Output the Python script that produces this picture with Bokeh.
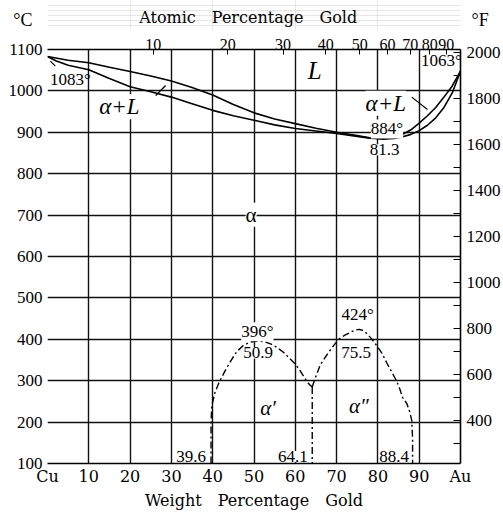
from bokeh.plotting import figure
from bokeh.layouts import column
from bokeh.models import Range1d, LinearAxis, FixedTicker, Label
from bokeh.core.properties import value
from bokeh.embed import file_html
from bokeh.resources import INLINE

# ---------------- data ----------------
# liquidus (wt% Au, deg C)
liq_wt = [0, 5, 10, 15, 20, 25, 30, 35, 40, 45, 50, 55, 60, 65, 70, 75, 78, 81.3,
          84, 86, 88, 90, 92, 94, 96, 98, 100]
liq_c = [1083, 1074, 1068, 1057, 1047, 1036, 1024, 1008, 990, 967, 947, 932, 921, 910,
         900, 892, 887, 884, 887, 895, 906, 922, 940, 960, 985, 1012, 1048]
# solidus
sol_wt = [0, 2, 5, 10, 15, 20, 25, 30, 35, 40, 45, 50, 55, 60, 65, 70, 75, 78, 81.3,
          84, 86, 88, 90, 92, 94, 96, 98, 100]
sol_c = [1083, 1073, 1062, 1051, 1030, 1010, 998, 985, 969, 953, 940, 929, 918, 909,
         903, 897, 890, 886, 884, 885, 889, 895, 904, 917, 935, 960, 995, 1048]
# ordering boundary alpha' (dash-dot)
ord1_wt = [39.6, 39.6, 39.8, 40.5, 41.5, 42.8, 44.2, 45.8, 47.4, 49, 50.9, 52.5, 54,
           55.6, 57.2, 58.7, 60, 61.1, 62, 62.8, 63.5, 64.1]
ord1_c = [100, 200, 240, 270, 295, 320, 345, 370, 385, 393, 396, 394, 389, 380, 368,
          353, 340, 325, 311, 298, 290, 285]
# ordering boundary alpha''
ord2_wt = [64.1, 64.6, 66, 67.2, 68.4, 69.6, 70.8, 72, 73.2, 74.4, 75.5, 76.5, 77.3,
           78.5, 79.7, 81, 82.1, 83.3, 84.5, 85.3, 86, 87, 87.7, 88.2, 88.4, 88.4]
ord2_c = [285, 300, 337, 356, 373, 389, 402, 410, 416, 422, 424, 421, 414, 401, 385,
          366, 344, 322, 300, 280, 259, 245, 225, 204, 160, 100]
# vertical boundary between alpha' and alpha''
ord3_wt = [64.1, 64.1]
ord3_c = [285, 100]

# axes
wt_ticks = [0, 10, 20, 30, 40, 50, 60, 70, 80, 90, 100]
wt_labels = ["Cu", "10", "20", "30", "40", "50", "60", "70", "80", "90", "Au"]
c_ticks = [100, 200, 300, 400, 500, 600, 700, 800, 900, 1000, 1100]
f_ticks = [400, 600, 800, 1000, 1200, 1400, 1600, 1800, 2000]
f_minor = [300, 500, 700, 900, 1100, 1300, 1500, 1700, 1900]
at_ticks = [10, 20, 30, 40, 50, 60, 70, 80, 90]
M_AU, M_CU = 196.97, 63.546

# point labels (text, wt%, degC)
num_text = ["1083°", "1063°", "884°", "81.3", "396°", "50.9", "424°", "75.5",
            "39.6", "64.1", "88.4"]
num_x = [0.6, 95.4, 82.2, 81.6, 50.8, 51.0, 75.1, 74.7, 34.8, 59.4, 83.9]
num_y = [1028, 1073, 908, 858, 418, 367, 459, 368, 117, 117, 117]
num_bg = [False, False, True, True, True, True, True, True, True, True, True]
num_align = ["left", "center", "center", "center", "center", "center", "center",
             "center", "center", "center", "center"]

phase_text = ["α+L", "L", "α+L", "α", "α′", "α″"]
phase_x = [17.4, 64.7, 81.9, 49.3, 53.4, 75.4]
phase_y = [962, 1049, 970, 701, 233, 240]
phase_italic = [True, True, True, False, True, True]
phase_size = ["23px", "25px", "23px", "21px", "21px", "21px"]

# leader lines
lead_x0 = [0.7, 26.2, 88.2]
lead_y0 = [1072, 989, 985]
lead_x1 = [1.9, 28.6, 92.0]
lead_y1 = [1060, 1013, 955]


def wt_from_at(a):
    return 100 * a * M_AU / (a * M_AU + (100 - a) * M_CU)


at_pos = [round(wt_from_at(a), 2) for a in at_ticks]

SERIF = "Liberation Serif"
DSERIF = "DejaVu Serif"
W = 503
HEAD_H = 30

# ---------------- header strip (units and top title) ----------------
h = figure(width=W, height=HEAD_H, x_range=Range1d(0, 100), y_range=Range1d(HEAD_H, 0),
           output_backend="svg", toolbar_location=None,
           x_axis_location=None, y_axis_location=None, min_border=0)
h.outline_line_color = None
h.background_fill_color = "white"
h.border_fill_color = "white"
h.text(x=[48.6], y=[17], text=["Atomic\u2003Percentage\u2003Gold"],
       text_font=value(DSERIF), text_font_size="16px", text_align="center",
       text_baseline="middle", text_color="black")

unit_left = LinearAxis(ticker=FixedTicker(ticks=[21]), major_label_overrides={21: "°C"})
unit_right = LinearAxis(ticker=FixedTicker(ticks=[21]), major_label_overrides={21: "°F"})
for ax, so in ((unit_left, 15), (unit_right, 11)):
    ax.axis_line_color = None
    ax.major_tick_in = 0
    ax.major_tick_out = 0
    ax.minor_tick_in = 0
    ax.minor_tick_out = 0
    ax.major_label_text_font = SERIF
    ax.major_label_text_font_size = "18px"
    ax.major_label_text_color = "black"
    ax.major_label_standoff = so
h.add_layout(unit_left, "left")
h.add_layout(unit_right, "right")

# ---------------- main diagram ----------------
p = figure(width=W, height=513 - HEAD_H, x_range=Range1d(0, 100),
           y_range=Range1d(100, 1100), output_backend="svg", toolbar_location=None,
           min_border_left=47, min_border_right=42, min_border_top=49 - HEAD_H,
           min_border_bottom=50)
p.outline_line_color = None
p.background_fill_color = "white"
p.border_fill_color = "white"
p.extra_y_ranges = {"F": Range1d(212, 2012)}

# grid
p.xgrid.ticker = FixedTicker(ticks=wt_ticks[1:-1])
p.ygrid.ticker = FixedTicker(ticks=c_ticks[1:-1])
for g in (p.xgrid, p.ygrid):
    g.grid_line_color = "#111111"
    g.grid_line_width = 1.4
    g.grid_line_alpha = 1.0

# bottom axis
xa = p.xaxis[0]
xa.ticker = FixedTicker(ticks=wt_ticks)
xa.major_label_overrides = {t: l for t, l in zip(wt_ticks, wt_labels)}
xa.major_tick_in = 0
xa.major_tick_out = 0
xa.minor_tick_in = 0
xa.minor_tick_out = 0
xa.axis_line_color = "black"
xa.axis_line_width = 1.6
xa.major_label_text_font = DSERIF
xa.major_label_text_font_size = "16px"
xa.major_label_text_color = "black"
xa.major_label_standoff = 3
xa.axis_label = "Weight\u2003Percentage\u2003Gold"
xa.axis_label_text_font = DSERIF
xa.axis_label_text_font_size = "16px"
xa.axis_label_text_font_style = "normal"
xa.axis_label_text_color = "black"
xa.axis_label_standoff = 2

# left axis
ya = p.yaxis[0]
ya.ticker = FixedTicker(ticks=c_ticks)
ya.axis_line_color = None
ya.major_tick_in = 0
ya.major_tick_out = 0
ya.minor_tick_in = 0
ya.minor_tick_out = 0
ya.major_label_text_font = "Liberation Sans Narrow"
ya.major_label_text_font_size = "17px"
ya.major_label_text_color = "black"
ya.major_label_standoff = 5

# top axis (atomic %)
ta = LinearAxis(ticker=FixedTicker(ticks=at_pos),
                major_label_overrides={pos: str(a) for pos, a in zip(at_pos, at_ticks)})
ta.major_tick_in = 5
ta.major_tick_out = 0
ta.minor_tick_in = 0
ta.minor_tick_out = 0
ta.axis_line_color = "black"
ta.axis_line_width = 1.6
ta.major_label_text_font = SERIF
ta.major_label_text_font_size = "16px"
ta.major_label_text_color = "black"
ta.major_label_standoff = 0
p.add_layout(ta, "above")

# right axis (deg F)
ra = LinearAxis(y_range_name="F", ticker=FixedTicker(ticks=f_ticks, minor_ticks=f_minor))
ra.major_tick_in = 7
ra.major_tick_out = 0
ra.minor_tick_in = 7
ra.minor_tick_out = 0
ra.axis_line_color = "black"
ra.axis_line_width = 1.6
ra.major_label_text_font = SERIF
ra.major_label_text_font_size = "17px"
ra.major_label_text_color = "black"
ra.major_label_standoff = 6
p.add_layout(ra, "right")

# curves
p.line(liq_wt, liq_c, line_color="black", line_width=1.6)
p.line(sol_wt, sol_c, line_color="black", line_width=1.6)
for xs, ys in ((ord1_wt, ord1_c), (ord2_wt, ord2_c), (ord3_wt, ord3_c)):
    p.line(xs, ys, line_color="black", line_width=1.4, line_dash="7 3 2 3")

p.segment(lead_x0, lead_y0, lead_x1, lead_y1, line_color="black", line_width=1.2)

# number labels
for t, x, y, bg, al in zip(num_text, num_x, num_y, num_bg, num_align):
    lab = Label(x=x, y=y, text=t, text_font=SERIF, text_font_size="17px",
                text_align=al, text_baseline="middle", text_color="black")
    if bg:
        lab.background_fill_color = "white"
    p.add_layout(lab)

# phase labels
for t, x, y, it, sz in zip(phase_text, phase_x, phase_y, phase_italic, phase_size):
    lab = Label(x=x, y=y, text=t, text_font=SERIF, text_font_size=sz,
                text_font_style="italic" if it else "normal",
                text_align="center", text_baseline="middle", text_color="black",
                background_fill_color="white")
    p.add_layout(lab)

layout = column(h, p, spacing=0)
open("out.html", "w").write(file_html(layout, INLINE))
